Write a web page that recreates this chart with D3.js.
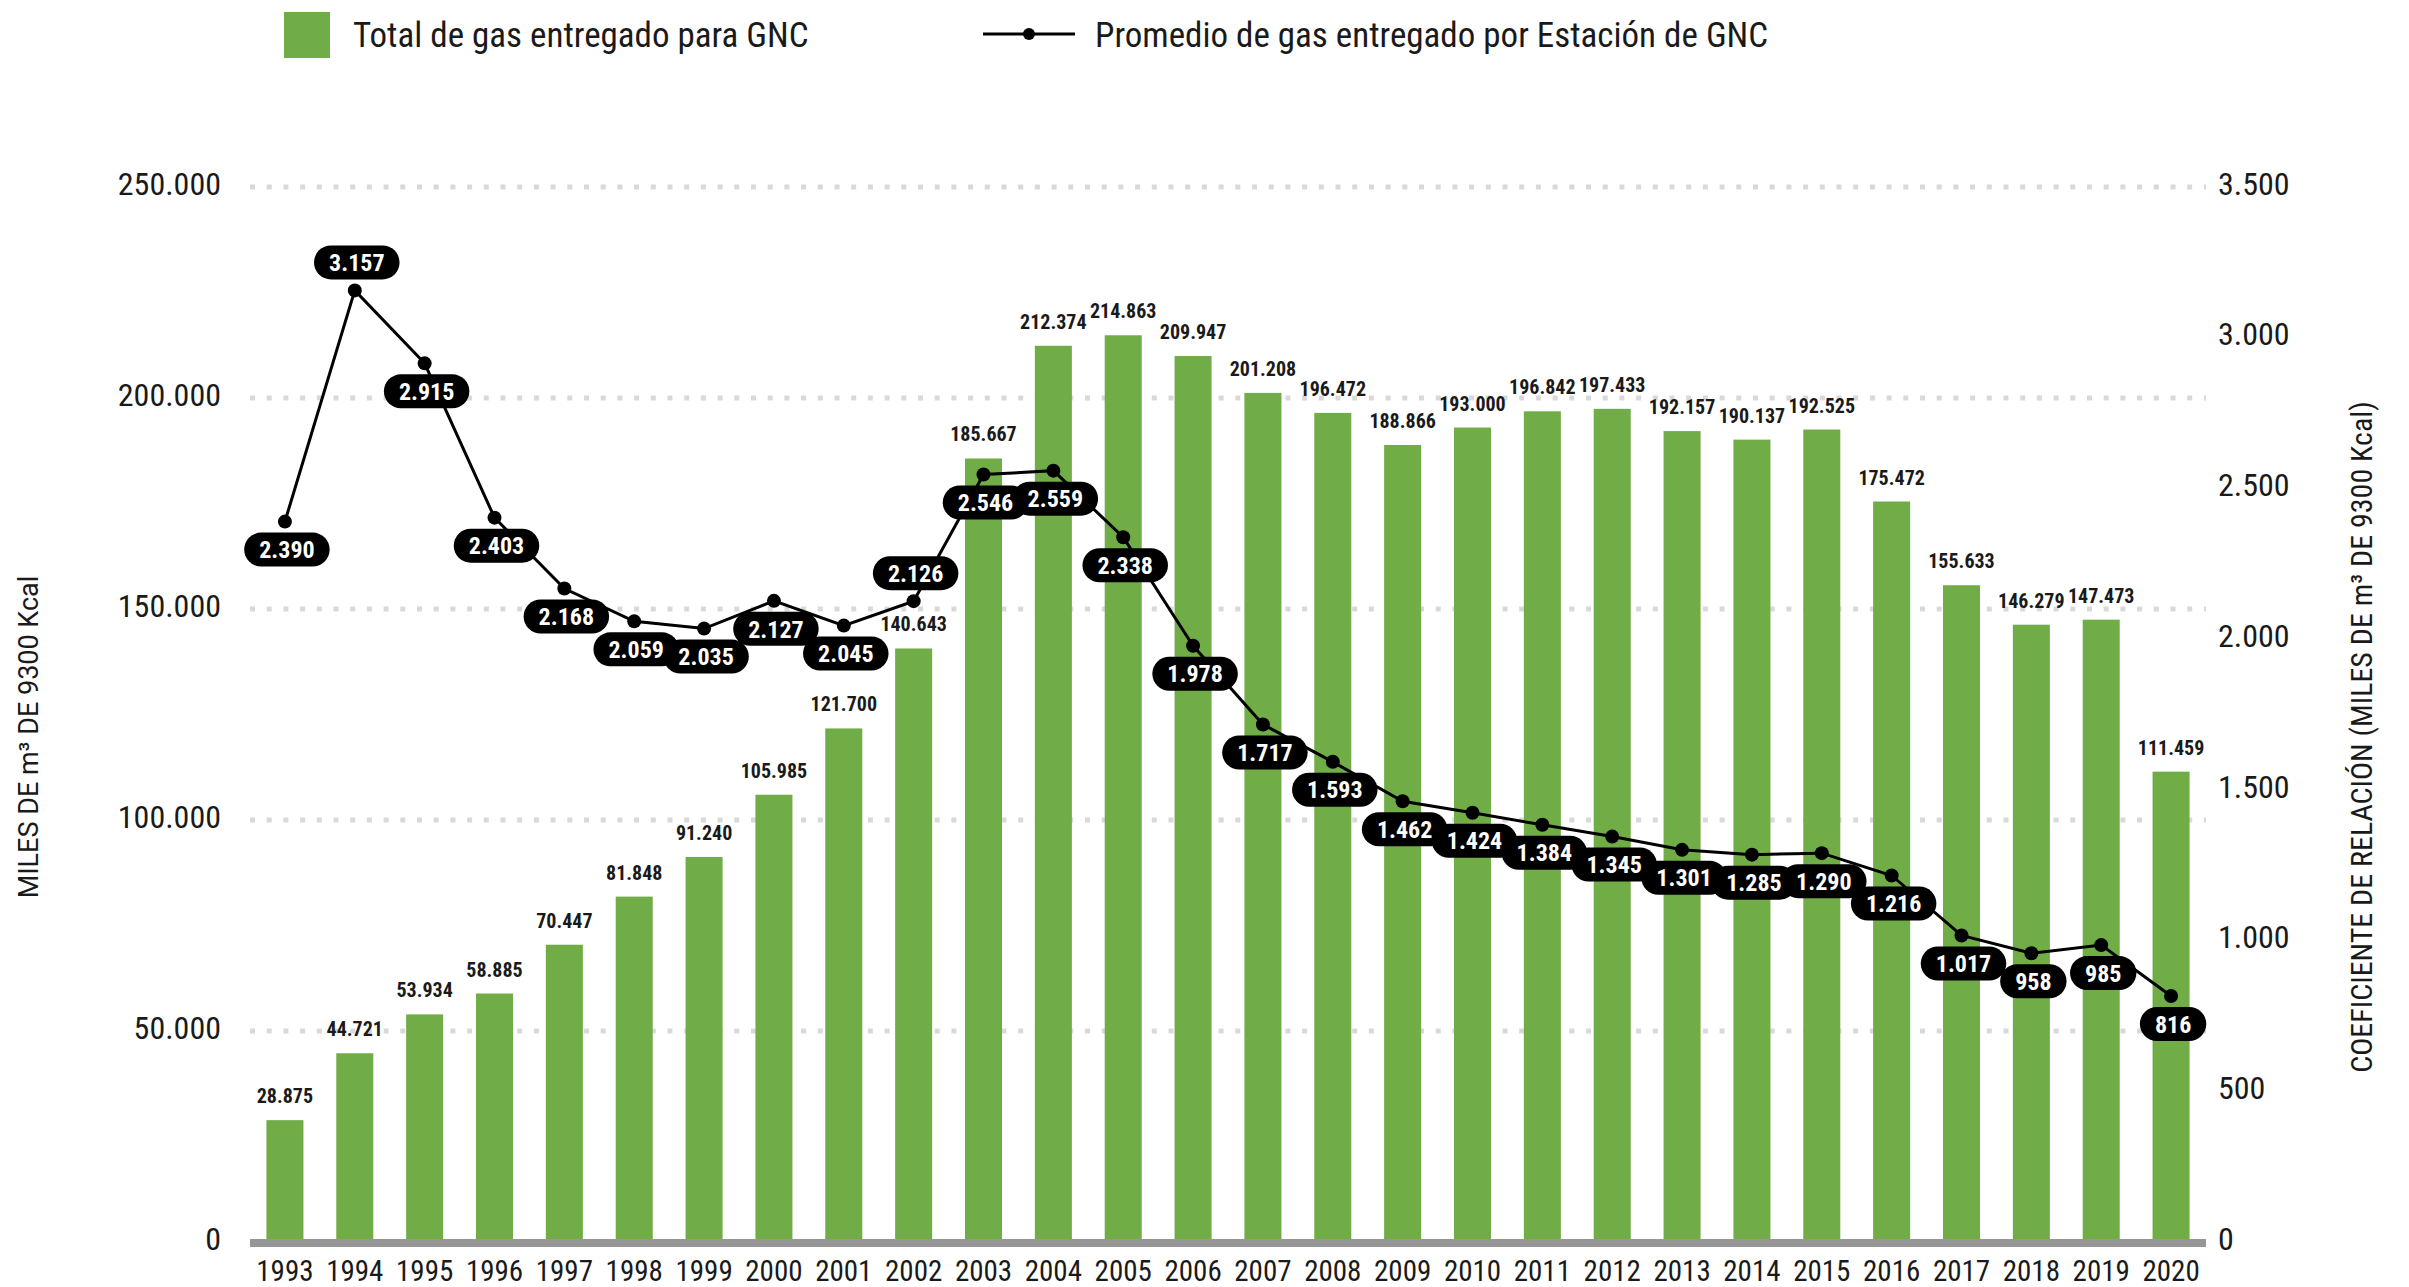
<!DOCTYPE html>
<html><head><meta charset="utf-8">
<script src="https://cdn.jsdelivr.net/npm/d3@7"></script>
<style>
html,body{margin:0;padding:0;background:#fff;}
svg{display:block;font-family:"Roboto Condensed","Liberation Sans Narrow","Roboto",sans-serif;}
</style></head><body>
<svg id="c" width="2409" height="1287"></svg>
<script>
const years = ["1993","1994","1995","1996","1997","1998","1999","2000","2001","2002","2003","2004","2005","2006","2007","2008","2009","2010","2011","2012","2013","2014","2015","2016","2017","2018","2019","2020"];
const totalGas = [28875,44721,53934,58885,70447,81848,91240,105985,121700,140643,185667,212374,214863,209947,201208,196472,188866,193000,196842,197433,192157,190137,192525,175472,155633,146279,147473,111459];
const avgPerStation = [2390,3157,2915,2403,2168,2059,2035,2127,2045,2126,2546,2559,2338,1978,1717,1593,1462,1424,1384,1345,1301,1285,1290,1216,1017,958,985,816];
const labelAbove = ["1994","2002"];
const leftTicks = [0,50000,100000,150000,200000,250000];
const rightTicks = [0,500,1000,1500,2000,2500,3000,3500];
const seriesNames = ["Total de gas entregado para GNC","Promedio de gas entregado por Estación de GNC"];
const leftTitle = "MILES DE m³ DE 9300 Kcal";
const rightTitle = "COEFICIENTE DE RELACIÓN (MILES DE m³ DE 9300 Kcal)";

const FONT = '"Roboto Condensed","Liberation Sans Narrow","Roboto",sans-serif';
const loc = d3.formatLocale({decimal:",",thousands:".",grouping:[3],currency:["$",""]});
const fmt = loc.format(",d");

const svg = d3.select("#c");
const L = 250, R = 2206, T = 187, B = 1242;
const x = d3.scaleBand().domain(years).range([L,R]).paddingInner(0.47).paddingOuter(0.235);
const yL = d3.scaleLinear().domain([0,250000]).range([B,T]);
const yR = d3.scaleLinear().domain([0,3500]).range([B,T]);
const green = "#70ad47";

// grid
svg.append("g").selectAll("line").data(leftTicks.filter(d=>d>0)).join("line")
  .attr("x1",L).attr("x2",R).attr("y1",d=>yL(d)).attr("y2",d=>yL(d))
  .attr("stroke","#d9d9d9").attr("stroke-width",5).attr("stroke-dasharray","5,11.7");

// bars
svg.append("g").selectAll("rect").data(years).join("rect")
  .attr("x",d=>x(d)).attr("width",x.bandwidth())
  .attr("y",(d,i)=>yL(totalGas[i])).attr("height",(d,i)=>B-yL(totalGas[i]))
  .attr("fill",green);

// bar labels
svg.append("g").selectAll("text").data(years).join("text")
  .attr("x",d=>x(d)+x.bandwidth()/2).attr("y",(d,i)=>yL(totalGas[i])-17)
  .attr("text-anchor","middle").attr("font-size",20).attr("font-weight","bold").attr("fill","#1a1a1a")
  .text((d,i)=>fmt(totalGas[i]));

// baseline
svg.append("line").attr("x1",L).attr("x2",R).attr("y1",B+1).attr("y2",B+1)
  .attr("stroke","#969696").attr("stroke-width",8);

// left axis
const axL = d3.axisLeft(yL).tickValues(leftTicks).tickFormat(fmt).tickSize(0).tickPadding(0);
const gL = svg.append("g").attr("transform",`translate(221,-3)`).call(axL).attr("font-family",FONT);
gL.select(".domain").remove();
gL.selectAll("text").attr("font-size",32).attr("fill","#1a1a1a");

// right axis
const axR = d3.axisRight(yR).tickValues(rightTicks).tickFormat(fmt).tickSize(0).tickPadding(0);
const gR = svg.append("g").attr("transform",`translate(2218,-3)`).call(axR).attr("font-family",FONT);
gR.select(".domain").remove();
gR.selectAll("text").attr("font-size",32).attr("fill","#1a1a1a");

// bottom axis
const axB = d3.axisBottom(x).tickSize(0).tickPadding(0);
const gB = svg.append("g").attr("transform",`translate(0,1260)`).call(axB).attr("font-family",FONT);
gB.select(".domain").remove();
gB.selectAll("text").attr("font-size",29).attr("fill","#1a1a1a");

// line
const cx = d => x(d)+x.bandwidth()/2;
const line = d3.line().x((d,i)=>cx(years[i])).y(d=>yR(d));
svg.append("path").datum(avgPerStation).attr("d",line).attr("fill","none").attr("stroke","#000").attr("stroke-width",3);
svg.append("g").selectAll("circle").data(avgPerStation).join("circle")
  .attr("cx",(d,i)=>cx(years[i])).attr("cy",d=>yR(d)).attr("r",7).attr("fill","#000");

// pills
const pg = svg.append("g").selectAll("g").data(avgPerStation).join("g")
  .attr("transform",(d,i)=>`translate(${cx(years[i])+2},${yR(d)+(labelAbove.includes(years[i])?-28:28)})`);
pg.append("rect").attr("y",-17).attr("height",34).attr("rx",17).attr("fill","#000");
pg.append("text").attr("text-anchor","middle").attr("dy","0.36em").attr("font-size",24).attr("font-weight","bold")
  .attr("fill","#fff").text(d=>fmt(d));
pg.each(function(){
  const g = d3.select(this);
  const w = g.select("text").node().getComputedTextLength();
  g.select("rect").attr("x",-(w/2+15)).attr("width",w+30);
});

// axis titles
svg.append("text").attr("transform","translate(38,737) rotate(-90)").attr("text-anchor","middle")
  .attr("font-size",27).attr("fill","#1a1a1a").style("font-family","Roboto,sans-serif").text(leftTitle);
svg.append("text").attr("transform","translate(2361,737) rotate(-90)").attr("text-anchor","middle").attr("dy","0.35em")
  .attr("font-size",30).attr("fill","#1a1a1a").text(rightTitle);

// legend
svg.append("rect").attr("x",284).attr("y",12).attr("width",46).attr("height",46).attr("fill",green);
svg.append("text").attr("x",353).attr("y",35).attr("dy","0.35em").attr("font-size",35).attr("fill","#1a1a1a").text(seriesNames[0]);
svg.append("line").attr("x1",983).attr("x2",1075).attr("y1",34).attr("y2",34).attr("stroke","#000").attr("stroke-width",3);
svg.append("circle").attr("cx",1029).attr("cy",34).attr("r",6).attr("fill","#000");
svg.append("text").attr("x",1095).attr("y",35).attr("dy","0.35em").attr("font-size",35).attr("fill","#1a1a1a").text(seriesNames[1]);
</script>
</body></html>
